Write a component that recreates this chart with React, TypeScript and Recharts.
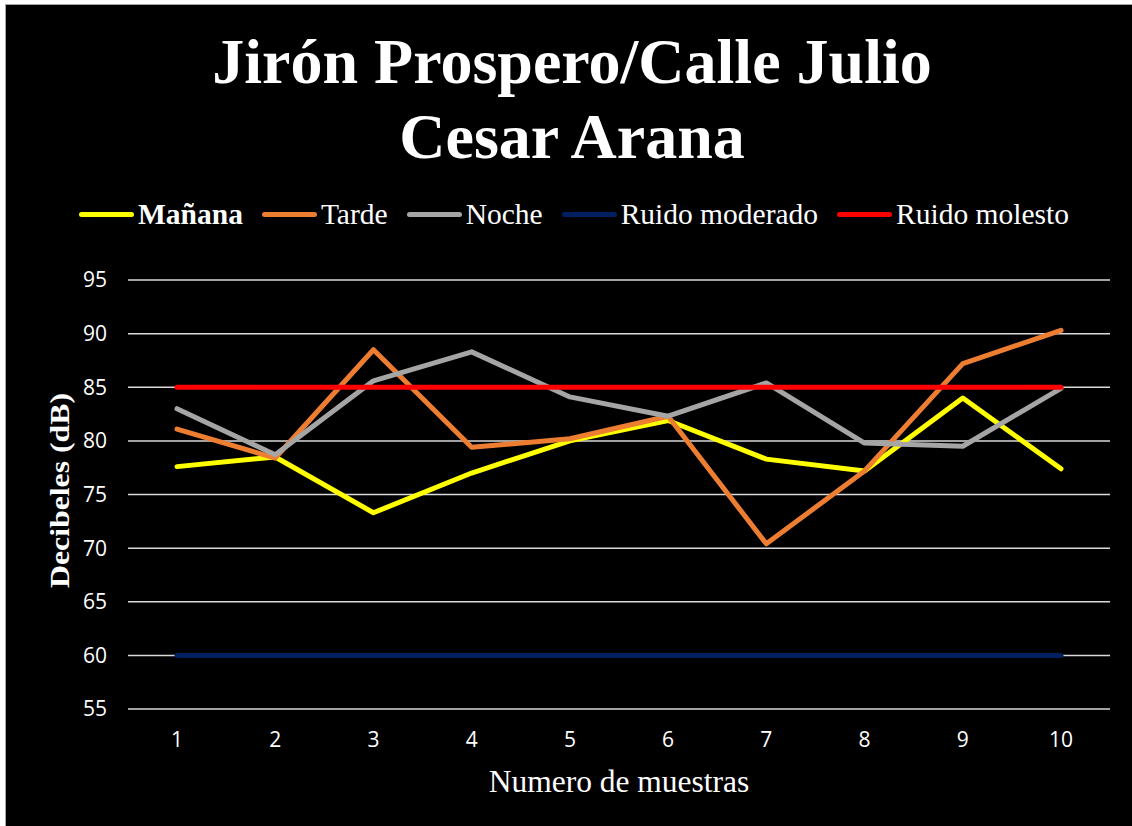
import React from "react";
import { LineChart, Line, XAxis, YAxis, CartesianGrid, Legend } from "recharts";

const samples = ["1", "2", "3", "4", "5", "6", "7", "8", "9", "10"];
const manana = [77.6, 78.5, 73.3, 77.0, 80.0, 81.9, 78.3, 77.2, 84.0, 77.4];
const tarde = [81.1, 78.4, 88.5, 79.4, 80.2, 82.3, 70.4, 77.2, 87.2, 90.3];
const noche = [83.0, 78.7, 85.6, 88.3, 84.1, 82.3, 85.4, 79.8, 79.5, 84.9];
const ruidoModerado = [60, 60, 60, 60, 60, 60, 60, 60, 60, 60];
const ruidoMolesto = [85, 85, 85, 85, 85, 85, 85, 85, 85, 85];
const yTicks = [55, 60, 65, 70, 75, 80, 85, 90, 95];

const series = [
  { key: "manana", name: "Mañana", color: "#FFFF00", values: manana, bold: true },
  { key: "tarde", name: "Tarde", color: "#ED7D31", values: tarde, bold: false },
  { key: "noche", name: "Noche", color: "#A5A5A5", values: noche, bold: false },
  { key: "moderado", name: "Ruido moderado", color: "#002060", values: ruidoModerado, bold: false },
  { key: "molesto", name: "Ruido molesto", color: "#FF0000", values: ruidoMolesto, bold: false },
];

const data = samples.map((s, i) => {
  const row: Record<string, any> = { sample: s };
  series.forEach((se) => {
    row[se.key] = se.values[i];
  });
  return row;
});

const serif = "'Liberation Serif', 'Times New Roman', serif";
const sans = "'Open Sans', 'DejaVu Sans', sans-serif";

const renderLegend = () => (
  <div
    style={{
      display: "flex",
      justifyContent: "center",
      alignItems: "center",
      fontFamily: serif,
      fontSize: 29.5,
      color: "#ffffff",
      whiteSpace: "nowrap",
    }}
  >
    {series.map((se, i) => (
      <div
        key={se.key}
        style={{ display: "flex", alignItems: "center", marginLeft: i === 0 ? 0 : 19 }}
      >
        <div
          style={{
            width: 55,
            height: 5,
            borderRadius: 3,
            background: se.color,
            marginRight: 4,
          }}
        />
        <span style={{ fontWeight: se.bold ? "bold" : "normal" }}>{se.name}</span>
      </div>
    ))}
  </div>
);

const XLabel = (props: any) => {
  const vb = props.viewBox || {};
  const cx = vb.x + vb.width / 2;
  return (
    <text
      x={cx}
      y={vb.y + 83}
      textAnchor="middle"
      fill="#ffffff"
      fontFamily={serif}
      fontSize={31.5}
    >
      Numero de muestras
    </text>
  );
};

const YLabel = (props: any) => {
  const vb = props.viewBox || {};
  const cy = vb.y + vb.height / 2 - 4;
  const cx = 69;
  return (
    <text
      x={cx}
      y={cy}
      transform={`rotate(-90, ${cx}, ${cy})`}
      textAnchor="middle"
      fill="#ffffff"
      fontFamily={serif}
      fontWeight="bold"
      fontSize={28}
      textLength={195}
      lengthAdjust="spacingAndGlyphs"
    >
      Decibeles (dB)
    </text>
  );
};

export default function App() {
  return (
    <div
      style={{
        position: "absolute",
        left: 0,
        top: 0,
        width: 1132,
        height: 826,
        background: "#ffffff",
        overflow: "hidden",
      }}
    >
      <div
        style={{
          position: "absolute",
          left: 5,
          top: 4,
          right: 0,
          bottom: 0,
          background: "#000000",
          borderTop: "1px solid #a6a6a6",
          borderLeft: "1px solid #a6a6a6",
        }}
      />
      <div
        style={{
          position: "absolute",
          left: 10,
          top: 25,
          width: 1124,
          textAlign: "center",
          fontFamily: serif,
          fontWeight: "bold",
          fontSize: 64,
          lineHeight: "74.5px",
          color: "#ffffff",
        }}
      >
        Jirón Prospero/Calle Julio
        <br />
        Cesar Arana
      </div>
      <div style={{ position: "absolute", left: 0, top: 0 }}>
        <LineChart
          width={1132}
          height={826}
          data={data}
          margin={{ top: 280, right: 22, bottom: 87, left: 68 }}
        >
          <CartesianGrid
            horizontal={true}
            vertical={false}
            stroke="#d9d9d9"
            strokeWidth={1.5}
          />
          <XAxis
            dataKey="sample"
            type="category"
            height={30}
            padding={{ left: 49, right: 49 }}
            axisLine={false}
            tickLine={false}
            tickSize={0}
            tickMargin={23}
            tick={{ fill: "#ffffff", fontFamily: sans, fontSize: 21 }}
            interval={0}
            label={<XLabel />}
          />
          <YAxis
            width={60}
            domain={[55, 95]}
            ticks={yTicks}
            type="number"
            axisLine={false}
            tickLine={false}
            tickSize={0}
            tickMargin={21}
            tick={{ fill: "#ffffff", fontFamily: sans, fontSize: 21 }}
            allowDataOverflow={true}
            label={<YLabel />}
          />
          <Legend
            verticalAlign="middle"
            align="center"
            layout="horizontal"
            wrapperStyle={{ top: 198, left: 11, width: 1126 }}
            content={renderLegend}
          />
          {series.map((se) => (
            <Line
              key={se.key}
              type="linear"
              dataKey={se.key}
              name={se.name}
              stroke={se.color}
              strokeWidth={5}
              strokeLinejoin="round"
              strokeLinecap="round"
              dot={false}
              activeDot={false}
              isAnimationActive={false}
            />
          ))}
        </LineChart>
      </div>
    </div>
  );
}
